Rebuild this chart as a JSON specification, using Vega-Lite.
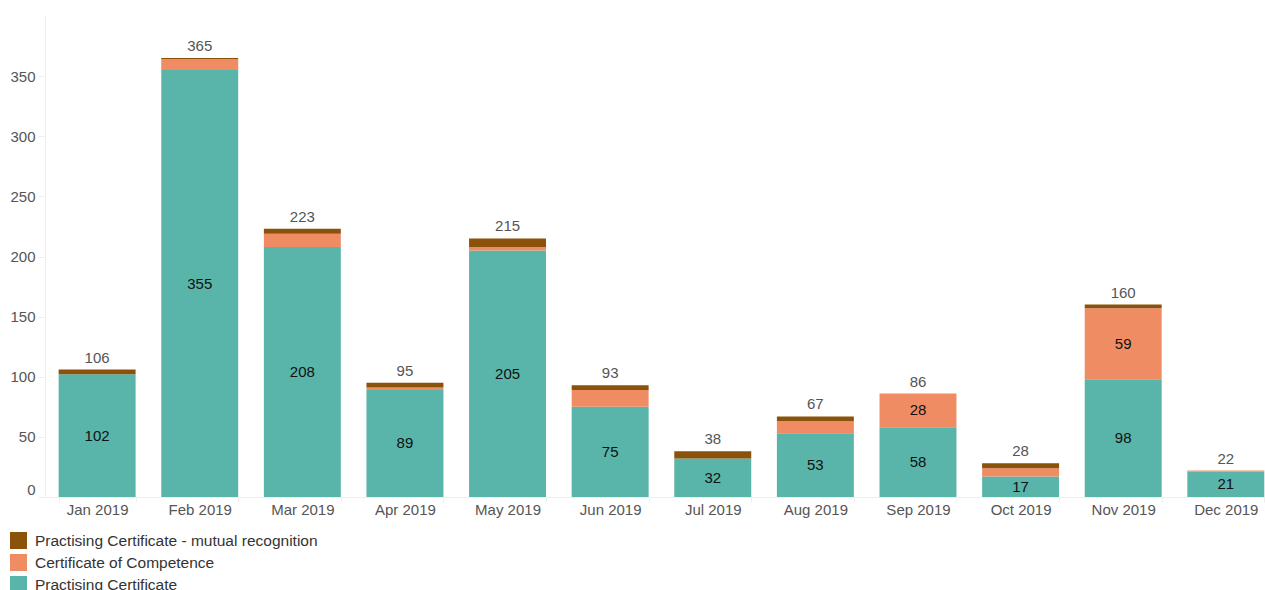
{
  "$schema": "https://vega.github.io/schema/vega-lite/v6.json",
  "width": 1220,
  "height": 481,
  "autosize": {"type": "none"},
  "padding": {"left": 45, "top": 16, "right": 0, "bottom": 93},
  "config": {"view": {"stroke": null}, "font": "Liberation Sans"},
  "data": {
    "values": [
      {"month": "Jan 2019", "type": "Practising Certificate", "count": 102},
      {"month": "Jan 2019", "type": "Practising Certificate - mutual recognition", "count": 4},
      {"month": "Feb 2019", "type": "Practising Certificate", "count": 355},
      {"month": "Feb 2019", "type": "Certificate of Competence", "count": 9},
      {"month": "Feb 2019", "type": "Practising Certificate - mutual recognition", "count": 1},
      {"month": "Mar 2019", "type": "Practising Certificate", "count": 208},
      {"month": "Mar 2019", "type": "Certificate of Competence", "count": 11},
      {"month": "Mar 2019", "type": "Practising Certificate - mutual recognition", "count": 4},
      {"month": "Apr 2019", "type": "Practising Certificate", "count": 89},
      {"month": "Apr 2019", "type": "Certificate of Competence", "count": 2},
      {"month": "Apr 2019", "type": "Practising Certificate - mutual recognition", "count": 4},
      {"month": "May 2019", "type": "Practising Certificate", "count": 205},
      {"month": "May 2019", "type": "Certificate of Competence", "count": 3},
      {"month": "May 2019", "type": "Practising Certificate - mutual recognition", "count": 7},
      {"month": "Jun 2019", "type": "Practising Certificate", "count": 75},
      {"month": "Jun 2019", "type": "Certificate of Competence", "count": 14},
      {"month": "Jun 2019", "type": "Practising Certificate - mutual recognition", "count": 4},
      {"month": "Jul 2019", "type": "Practising Certificate", "count": 32},
      {"month": "Jul 2019", "type": "Practising Certificate - mutual recognition", "count": 6},
      {"month": "Aug 2019", "type": "Practising Certificate", "count": 53},
      {"month": "Aug 2019", "type": "Certificate of Competence", "count": 10},
      {"month": "Aug 2019", "type": "Practising Certificate - mutual recognition", "count": 4},
      {"month": "Sep 2019", "type": "Practising Certificate", "count": 58},
      {"month": "Sep 2019", "type": "Certificate of Competence", "count": 28},
      {"month": "Oct 2019", "type": "Practising Certificate", "count": 17},
      {"month": "Oct 2019", "type": "Certificate of Competence", "count": 7},
      {"month": "Oct 2019", "type": "Practising Certificate - mutual recognition", "count": 4},
      {"month": "Nov 2019", "type": "Practising Certificate", "count": 98},
      {"month": "Nov 2019", "type": "Certificate of Competence", "count": 59},
      {"month": "Nov 2019", "type": "Practising Certificate - mutual recognition", "count": 3},
      {"month": "Dec 2019", "type": "Practising Certificate", "count": 21},
      {"month": "Dec 2019", "type": "Certificate of Competence", "count": 1}
    ]
  },
  "transform": [
    {"calculate": "indexof(['Practising Certificate','Certificate of Competence','Practising Certificate - mutual recognition'], datum.type)", "as": "rank"}
  ],
  "encoding": {
    "x": {
      "field": "month",
      "type": "ordinal",
      "sort": null,
      "scale": {"paddingInner": 0.25, "paddingOuter": 0.07, "align": 0.95},
      "axis": {
        "title": null,
        "labelAngle": 0,
        "labelFontSize": 15,
        "labelColor": "#555",
        "labelPadding": 0,
        "tickSize": 5,
        "tickBand": "extent",
        "tickColor": "#eeeeee",
        "domainColor": "#eeeeee"
      }
    }
  },
  "layer": [
    {
      "mark": {"type": "bar"},
      "encoding": {
        "y": {
          "field": "count",
          "type": "quantitative",
          "stack": "zero",
          "scale": {"domain": [0, 400], "nice": false},
          "axis": {
            "title": null,
            "values": [0, 50, 100, 150, 200, 250, 300, 350],
            "grid": false,
            "labelFontSize": 15,
            "labelColor": "#555",
            "labelPadding": 3,
            "labelFlush": true,
            "tickSize": 7,
            "tickColor": "#eeeeee",
            "domainColor": "#eeeeee"
          }
        },
        "color": {
          "field": "type",
          "type": "nominal",
          "scale": {
            "domain": ["Practising Certificate - mutual recognition", "Certificate of Competence", "Practising Certificate"],
            "range": ["#8B520B", "#F08C64", "#59B4A9"]
          },
          "legend": {
            "title": null,
            "orient": "none",
            "legendX": -35,
            "legendY": 516,
            "symbolType": "square",
            "symbolSize": 289,
            "symbolStrokeWidth": 0,
            "symbolOpacity": 1,
            "labelFontSize": 15.5,
            "labelColor": "#333",
            "labelLimit": 0,
            "labelOffset": 8,
            "rowPadding": 5
          }
        },
        "order": {"field": "rank", "type": "quantitative"}
      }
    },
    {
      "transform": [
        {"stack": "count", "groupby": ["month"], "sort": [{"field": "rank"}], "as": ["y0", "y1"]},
        {"calculate": "(datum.y0 + datum.y1) / 2", "as": "ymid"},
        {"filter": "datum.count >= 15"}
      ],
      "mark": {"type": "text", "fontSize": 15, "color": "#111", "baseline": "middle"},
      "encoding": {
        "y": {
          "field": "ymid",
          "type": "quantitative",
          "axis": {
            "title": null,
            "values": [0, 50, 100, 150, 200, 250, 300, 350],
            "grid": false,
            "labelFontSize": 15,
            "labelColor": "#555",
            "labelPadding": 3,
            "labelFlush": true,
            "tickSize": 7,
            "tickColor": "#eeeeee",
            "domainColor": "#eeeeee"
          }
        },
        "text": {"field": "count", "type": "quantitative"}
      }
    },
    {
      "transform": [
        {"aggregate": [{"op": "sum", "field": "count", "as": "total"}], "groupby": ["month"]}
      ],
      "mark": {"type": "text", "fontSize": 15, "color": "#555", "baseline": "bottom", "dy": -4},
      "encoding": {
        "y": {
          "field": "total",
          "type": "quantitative",
          "axis": {
            "title": null,
            "values": [0, 50, 100, 150, 200, 250, 300, 350],
            "grid": false,
            "labelFontSize": 15,
            "labelColor": "#555",
            "labelPadding": 3,
            "labelFlush": true,
            "tickSize": 7,
            "tickColor": "#eeeeee",
            "domainColor": "#eeeeee"
          }
        },
        "text": {"field": "total", "type": "quantitative"}
      }
    }
  ]
}
